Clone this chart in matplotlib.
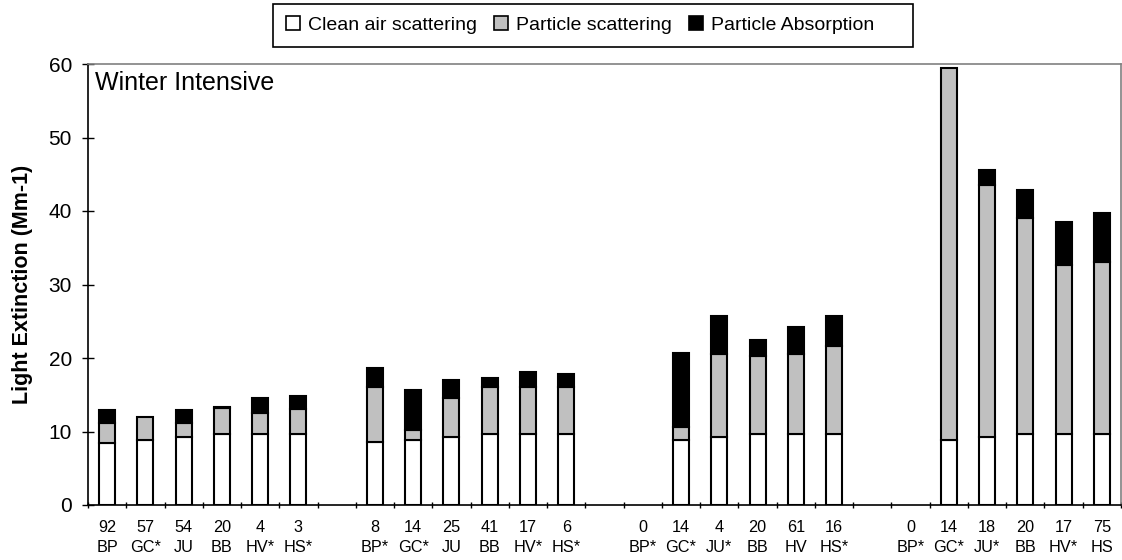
import matplotlib
matplotlib.use("Agg")
import matplotlib.pyplot as plt
from matplotlib.patches import Patch, Rectangle
from matplotlib.ticker import FixedLocator
import numpy as np

plt.rcParams['font.family'] = ['Liberation Sans', 'DejaVu Sans']

# ---- data ----
groups = ['g1', 'g2', 'g3', 'g4']
sites = [
    ['BP', 'GC*', 'JU', 'BB', 'HV*', 'HS*'],
    ['BP*', 'GC*', 'JU', 'BB', 'HV*', 'HS*'],
    ['BP*', 'GC*', 'JU*', 'BB', 'HV', 'HS*'],
    ['BP*', 'GC*', 'JU*', 'BB', 'HV*', 'HS'],
]
counts = [
    [92, 57, 54, 20, 4, 3],
    [8, 14, 25, 41, 17, 6],
    [0, 14, 4, 20, 61, 16],
    [0, 14, 18, 20, 17, 75],
]
clean_air = [
    [8.5, 8.85, 9.3, 9.6, 9.6, 9.6],
    [8.6, 8.85, 9.3, 9.6, 9.6, 9.6],
    [0, 8.8, 9.3, 9.6, 9.6, 9.6],
    [0, 8.8, 9.3, 9.6, 9.6, 9.6],
]
particle_scat = [
    [2.6, 3.15, 1.8, 3.6, 2.9, 3.4],
    [7.4, 1.35, 5.3, 6.4, 6.4, 6.4],
    [0, 1.8, 11.3, 10.7, 11.0, 12.1],
    [0, 50.7, 34.2, 29.5, 23.0, 23.5],
]
particle_abs = [
    [1.8, 0, 1.8, 0.2, 2.0, 1.85],
    [2.6, 5.5, 2.4, 1.3, 2.1, 1.8],
    [0, 10.1, 5.1, 2.2, 3.6, 4.0],
    [0, 0, 2.1, 3.8, 5.9, 6.6],
]
series_names = ['Clean air scattering', 'Particle scattering', 'Particle Absorption']
series_colors = ['white', '#C0C0C0', 'black']

# ---- figure ----
W, H = 1122, 560
fig = plt.figure(figsize=(W / 100, H / 100), dpi=100)
ax = fig.add_axes([88 / W, 1 - 505 / H, (1121 - 88) / W, (505 - 64) / H])

n_per = len(sites[0])
slot = n_per + 1
positions, labels = [], []
ca, ps, pa = [], [], []
for g in range(len(groups)):
    for i in range(n_per):
        positions.append(g * slot + i)
        labels.append(f"{counts[g][i]}\n{sites[g][i]}")
        ca.append(clean_air[g][i])
        ps.append(particle_scat[g][i])
        pa.append(particle_abs[g][i])
positions = np.array(positions, dtype=float)
ca, ps, pa = map(np.array, (ca, ps, pa))

bw = 0.42
lw = 1.5
bottoms = [np.zeros_like(ca), ca, ca + ps]
for vals, bot, col in zip([ca, ps, pa], bottoms, series_colors):
    m = vals > 0
    ax.bar(positions[m], vals[m], bw, bottom=bot[m], color=col, edgecolor='black',
           linewidth=lw, zorder=3)

nslots = len(groups) * slot - 1
ax.set_xlim(-0.5, nslots - 0.5)
ax.set_ylim(0, 60)
ax.set_yticks(np.arange(0, 61, 10))

ax.xaxis.set_major_locator(FixedLocator(positions))
ax.set_xticklabels(labels, fontsize=11.7, linespacing=1.4)
ax.xaxis.set_minor_locator(FixedLocator(np.arange(-0.5, nslots, 1.0)))
ax.tick_params(axis='x', which='major', length=0, pad=11)
ax.tick_params(axis='x', which='minor', direction='inout', length=5, width=1)
ax.tick_params(axis='y', which='major', direction='inout', length=9, width=1, labelsize=15, pad=7)

for s in ['left', 'bottom']:
    ax.spines[s].set_color('black')
    ax.spines[s].set_linewidth(1.2)
for s in ['top', 'right']:
    ax.spines[s].set_color('#808080')
    ax.spines[s].set_linewidth(1.2)

ax.set_ylabel('Light Extinction (Mm-1)', fontsize=15.5, fontweight='bold')
ax.yaxis.set_label_coords(-(88 - 33) / (1121 - 88), 0.5)

ax.text(95 / W, 1 - 90 / H, 'Winter Intensive', fontsize=18, transform=fig.transFigure,
        ha='left', va='baseline')

# legend frame
fig.patches.append(Rectangle((273 / W, 1 - 47 / H), (913 - 273) / W, 43 / H,
                             transform=fig.transFigure, facecolor='white',
                             edgecolor='black', linewidth=1.2, zorder=1))
handles = [Patch(facecolor=c, edgecolor='black', linewidth=1.2) for c in series_colors]
leg = fig.legend(handles, series_names, loc='center', bbox_to_anchor=(580 / W, 1 - 25 / H),
                 ncol=3, fontsize=14, frameon=False,
                 handlelength=0.72, handleheight=0.72, handletextpad=0.4, columnspacing=0.9,
                 borderpad=0, borderaxespad=0)
leg.set_zorder(2)

fig.savefig('out.png', dpi=100)
